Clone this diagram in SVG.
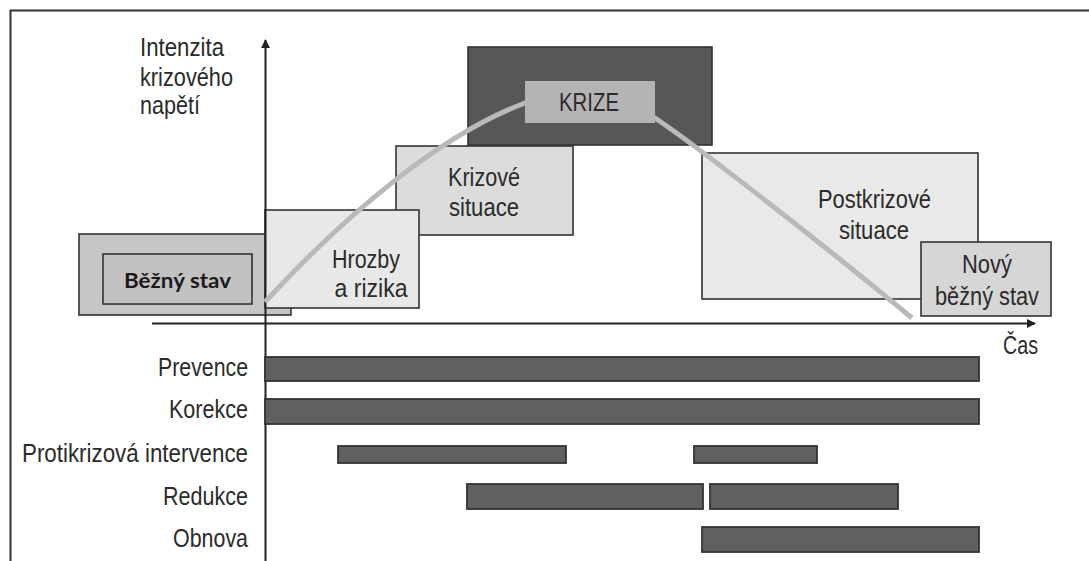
<svg xmlns="http://www.w3.org/2000/svg" width="1089" height="561" viewBox="0 0 1089 561">
<style>
  .t { font-family: "Liberation Sans", Arial, sans-serif; font-size: 26px; fill: #2b2b2b; }
  .b { font-family: "Lato", "Open Sans", sans-serif; font-size: 21px; font-weight: bold; fill: #1a1a1a; }
  .box { stroke: #333; stroke-width: 1.6; }
  .bar { fill: #606060; stroke: #333; stroke-width: 1.8; }
  .axis { stroke: #222; stroke-width: 2; fill: none; }
</style>
<defs>
  <marker id="arr" viewBox="0 0 10 10" refX="9" refY="5" markerWidth="9" markerHeight="9" markerUnits="userSpaceOnUse" orient="auto">
    <path d="M0,0 L10,5 L0,10 Z" fill="#222"/>
  </marker>
</defs>
<rect width="1089" height="561" fill="#fff"/>
<g id="frame">
  <path d="M10.5,561 L10.5,10.5 L1089,10.5" fill="none" stroke="#333" stroke-width="2"/>
</g>
<g id="bezny-stav">
  <rect class="box" x="79" y="234" width="212" height="81" fill="#c6c6c6"/>
  <rect class="box" x="103" y="254" width="149" height="50" fill="#c2c2c2"/>
  <text class="b" x="177.5" y="288" text-anchor="middle" textLength="107" lengthAdjust="spacingAndGlyphs">Běžný stav</text>
</g>
<g id="krize">
  <rect class="box" x="468" y="47" width="244" height="98" fill="#575757"/>
</g>
<g id="krizove-situace">
  <rect class="box" x="396" y="146" width="177" height="89" fill="#dcdcdc"/>
  <text class="t" x="484" y="186" text-anchor="middle" textLength="72" lengthAdjust="spacingAndGlyphs">Krizové</text>
  <text class="t" x="484" y="216" text-anchor="middle" textLength="70" lengthAdjust="spacingAndGlyphs">situace</text>
</g>
<g id="hrozby">
  <rect class="box" x="265" y="210" width="154" height="98" fill="#e8e8e8"/>
  <text class="t" x="366" y="268" text-anchor="middle" textLength="68" lengthAdjust="spacingAndGlyphs">Hrozby</text>
  <text class="t" x="371" y="297" text-anchor="middle" textLength="73" lengthAdjust="spacingAndGlyphs">a rizika</text>
</g>
<g id="postkrizove-situace">
  <rect class="box" x="702" y="153" width="276" height="146" fill="#e9e9e9"/>
  <text class="t" x="874.5" y="208" text-anchor="middle" textLength="113" lengthAdjust="spacingAndGlyphs">Postkrizové</text>
  <text class="t" x="874" y="239" text-anchor="middle" textLength="70" lengthAdjust="spacingAndGlyphs">situace</text>
</g>
<g id="novy-bezny-stav">
  <rect class="box" x="921" y="242" width="130" height="74" fill="#d6d6d6"/>
  <text class="t" x="987" y="273" text-anchor="middle" textLength="50" lengthAdjust="spacingAndGlyphs">Nový</text>
  <text class="t" x="987" y="305" text-anchor="middle" textLength="104" lengthAdjust="spacingAndGlyphs">běžný stav</text>
</g>
<g id="connectors">
  <line class="axis" x1="265.5" y1="561" x2="265.5" y2="40" marker-end="url(#arr)"/>
  <line class="axis" x1="152" y1="323.5" x2="1035" y2="323.5" marker-end="url(#arr)"/>
  <path d="M265,302 C345,215 440,135 525,103 C565,88 620,96 655,118 C700,148 830,250 912,318" fill="none" stroke="#b9b9b9" stroke-width="5"/>
</g>
<g id="krize-label">
  <rect x="525" y="81" width="130" height="42" fill="#b4b4b4"/>
  <text class="t" x="589" y="111" text-anchor="middle" textLength="60" lengthAdjust="spacingAndGlyphs">KRIZE</text>
</g>
<g id="axis-labels">
  <text class="t" x="140" y="56" textLength="84" lengthAdjust="spacingAndGlyphs">Intenzita</text>
  <text class="t" x="140" y="86" textLength="93" lengthAdjust="spacingAndGlyphs">krizového</text>
  <text class="t" x="140" y="114" textLength="60" lengthAdjust="spacingAndGlyphs">napětí</text>
  <text class="t" x="1003" y="354" textLength="35" lengthAdjust="spacingAndGlyphs">Čas</text>
</g>
<g id="activities">
  <text class="t" x="248" y="376" text-anchor="end" textLength="90" lengthAdjust="spacingAndGlyphs">Prevence</text>
  <text class="t" x="248" y="418" text-anchor="end" textLength="79" lengthAdjust="spacingAndGlyphs">Korekce</text>
  <text class="t" x="248" y="462" text-anchor="end" textLength="226" lengthAdjust="spacingAndGlyphs">Protikrizová intervence</text>
  <text class="t" x="248" y="505" text-anchor="end" textLength="85" lengthAdjust="spacingAndGlyphs">Redukce</text>
  <text class="t" x="248" y="547" text-anchor="end" textLength="75" lengthAdjust="spacingAndGlyphs">Obnova</text>
  <rect class="bar" x="265" y="357" width="714" height="24"/>
  <rect class="bar" x="265" y="399" width="714" height="25"/>
  <rect class="bar" x="338" y="446" width="228" height="17"/>
  <rect class="bar" x="694" y="446" width="123" height="17"/>
  <rect class="bar" x="467" y="484" width="236" height="25"/>
  <rect class="bar" x="710" y="484" width="188" height="25"/>
  <rect class="bar" x="702" y="527" width="277" height="25"/>
</g>
</svg>
